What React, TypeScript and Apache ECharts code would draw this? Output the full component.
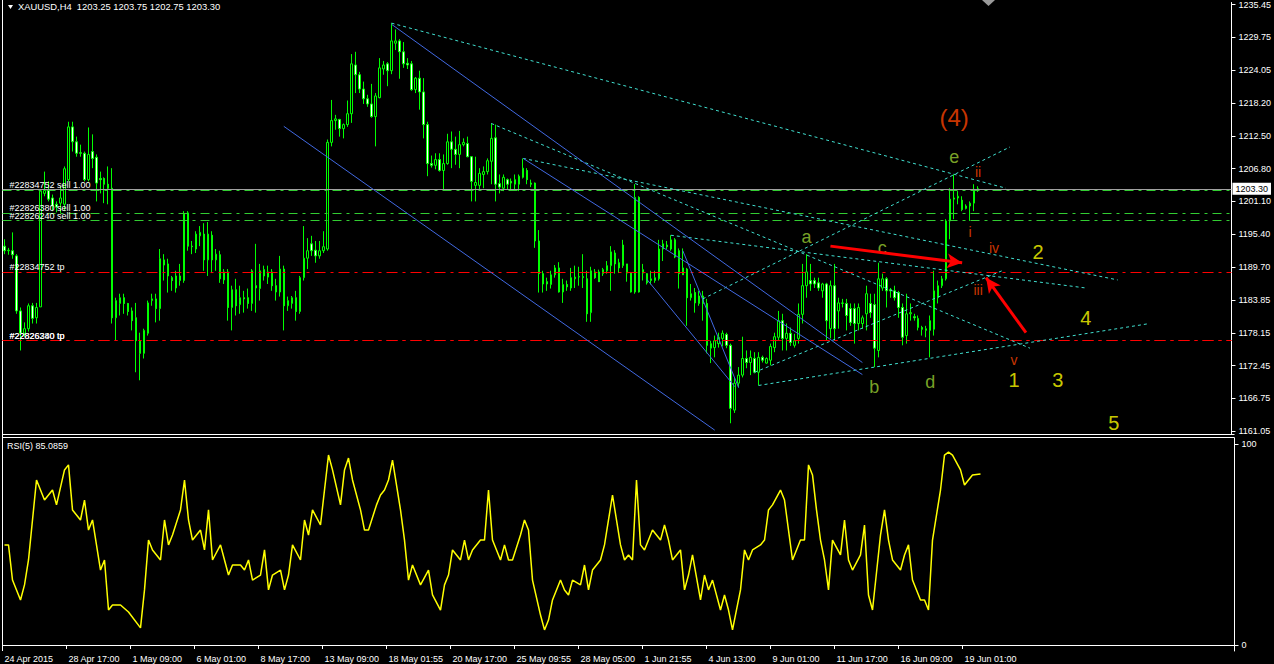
import React, { useEffect, useRef } from 'react';
import * as echarts from 'echarts';

// ---------------- data ----------------
const SLOTS = 308;
const dateLabels = ['24 Apr 2015','28 Apr 17:00','1 May 09:00','6 May 01:00','8 May 17:00','13 May 09:00','18 May 01:55','20 May 17:00','25 May 09:55','28 May 05:00','1 Jun 21:55','4 Jun 13:00','9 Jun 01:00','11 Jun 17:00','16 Jun 09:00','19 Jun 01:00'];
const priceTicks = [1161.05,1166.75,1172.45,1178.15,1183.85,1189.70,1195.40,1201.10,1206.80,1212.50,1218.20,1224.05,1229.75,1235.45];
const rsiTicks = [0, 100];

const open = [
1193.3,1192.5,1192.5,1191.6,1182.0,1178.1,1178.9,1182.9,1180.8,1182.7,
1202.5,1203.0,1201.7,1200.6,1200.8,1200.6,1204.9,1214.1,1211.5,1209.6,
1209.5,1204.9,1209.8,1208.8,1205.1,1205.1,1204.1,1203.4,1180.8,1183.3,
1184.3,1183.3,1182.0,1180.8,1176.8,1174.6,1178.1,1183.8,1184.1,1182.4,
1190.9,1190.2,1187.8,1186.0,1187.3,1187.3,1199.1,1193.3,1192.8,1195.1,
1195.4,1190.9,1195.2,1190.9,1191.8,1187.4,1188.8,1182.6,1185.7,1183.1,
1184.3,1184.3,1183.3,1186.4,1185.9,1189.2,1187.9,1188.8,1186.4,1185.3,
1189.3,1182.9,1183.3,1184.3,1181.9,1187.8,1191.2,1193.7,1192.6,1191.6,
1192.5,1192.8,1211.4,1215.2,1215.4,1213.8,1214.5,1216.4,1224.9,1223.2,
1220.7,1219.0,1218.1,1215.9,1219.2,1224.2,1225.1,1223.9,1228.7,1229.1,
1227.2,1225.2,1225.1,1220.6,1222.6,1220.2,1214.5,1207.7,1207.4,1208.4,
1206.5,1207.7,1211.5,1210.2,1209.3,1211.0,1211.2,1208.9,1203.9,1203.9,
1205.8,1206.3,1208.1,1212.2,1204.2,1203.4,1204.9,1204.6,1204.1,1204.1,
1205.3,1206.5,1204.3,1204.3,1194.2,1188.5,1187.1,1186.6,1188.3,1189.5,
1185.3,1186.6,1186.0,1187.6,1187.9,1187.8,1187.6,1181.7,1188.8,1188.8,
1188.5,1189.0,1189.9,1192.1,1190.4,1189.9,1190.2,1188.6,1185.3,1201.8,
1188.6,1188.5,1187.3,1187.3,1187.6,1192.8,1193.5,1192.8,1194.4,1192.5,
1189.5,1189.3,1184.3,1185.2,1183.3,1184.6,1183.3,1175.5,1175.6,1176.3,
1177.2,1177.9,1176.0,1164.7,1169.4,1170.8,1173.7,1173.0,1173.7,1171.3,
1173.9,1172.9,1173.4,1175.6,1177.4,1180.3,1177.2,1178.1,1176.0,1177.2,
1181.4,1186.4,1187.3,1187.3,1186.9,1185.5,1186.7,1178.9,1186.4,1182.0,
1183.3,1183.3,1182.4,1182.4,1179.8,1179.8,1181.5,1183.3,1183.1,1175.1,
1186.0,1187.6,1185.7,1185.5,1185.2,1182.6,1177.7,1181.5,1181.0,1179.1,
1179.1,1178.6,1178.6,1178.8,1184.3,1186.4,1187.6,1197.7,1201.5,1201.7,
1201.3,1200.3,1200.3,1200.8,1203.25];

const high = [
1194.5,1193.0,1195.7,1191.9,1182.6,1180.0,1183.3,1183.4,1183.4,1203.0,
1206.3,1204.6,1202.3,1201.1,1203.7,1207.2,1215.0,1215.0,1212.4,1211.0,
1209.8,1214.0,1212.8,1209.3,1206.3,1205.3,1207.2,1206.9,1184.3,1185.0,
1185.0,1183.4,1182.6,1183.4,1178.2,1178.9,1183.8,1185.0,1185.0,1192.8,
1191.9,1191.1,1188.1,1189.0,1190.2,1199.4,1199.4,1194.2,1195.9,1196.8,
1197.3,1197.5,1195.9,1192.8,1192.5,1189.3,1189.3,1186.4,1187.6,1186.4,
1185.5,1185.9,1189.3,1193.7,1190.2,1189.9,1189.9,1189.3,1187.6,1191.6,
1189.9,1184.5,1184.6,1185.5,1188.1,1196.8,1194.7,1195.1,1194.2,1194.2,
1195.9,1211.9,1218.8,1216.2,1215.5,1214.7,1218.7,1226.8,1227.2,1223.7,
1222.0,1219.7,1221.6,1220.0,1226.1,1225.6,1225.4,1232.2,1231.1,1229.4,
1228.9,1226.1,1225.6,1222.8,1223.9,1222.6,1215.0,1209.1,1209.5,1209.5,
1209.3,1212.9,1213.3,1212.4,1213.4,1212.1,1212.4,1209.0,1208.9,1206.9,
1207.2,1208.6,1214.7,1214.5,1205.8,1205.8,1205.1,1205.1,1205.8,1205.8,
1208.6,1206.9,1204.9,1204.4,1196.1,1189.0,1187.8,1189.0,1190.0,1190.5,
1187.6,1187.3,1189.5,1189.9,1189.7,1191.9,1189.0,1189.7,1189.3,1189.2,
1189.5,1190.7,1193.3,1192.6,1191.1,1194.4,1190.2,1188.8,1204.1,1202.0,
1190.2,1188.6,1189.0,1189.0,1194.4,1194.4,1194.2,1195.2,1194.7,1192.9,
1192.9,1189.5,1186.7,1186.0,1185.5,1185.5,1184.1,1176.8,1177.7,1178.2,
1178.6,1178.2,1176.3,1170.4,1172.2,1177.5,1175.1,1175.1,1174.8,1174.8,
1174.2,1173.9,1176.3,1178.2,1182.0,1181.5,1179.8,1179.1,1178.0,1183.3,
1190.2,1191.9,1190.2,1187.8,1187.8,1186.9,1186.9,1187.3,1190.2,1184.3,
1184.1,1184.1,1183.3,1183.3,1183.3,1181.2,1186.4,1185.0,1185.0,1190.4,
1188.5,1187.9,1186.0,1186.4,1185.5,1183.3,1185.0,1183.3,1181.5,1181.2,
1179.4,1179.4,1181.2,1189.0,1187.3,1188.1,1198.0,1203.4,1205.8,1202.9,
1202.0,1200.6,1201.1,1204.1,1203.75];

const low = [
1191.9,1191.8,1191.1,1181.5,1175.1,1177.5,1178.4,1179.8,1179.8,1182.7,
1202.0,1201.1,1199.4,1199.2,1199.1,1199.4,1204.6,1209.8,1208.9,1208.9,
1204.6,1204.6,1206.9,1201.1,1202.5,1200.8,1200.6,1179.8,1176.8,1181.2,
1181.5,1181.2,1178.6,1171.3,1169.9,1173.7,1177.7,1182.9,1180.0,1180.3,
1187.3,1185.2,1185.5,1185.2,1186.4,1186.9,1192.5,1191.9,1192.1,1193.3,
1189.0,1188.1,1188.6,1189.0,1186.9,1186.7,1180.3,1178.6,1181.2,1181.5,
1181.7,1182.4,1182.0,1181.7,1183.8,1187.3,1186.7,1185.5,1183.8,1184.5,
1178.6,1182.0,1182.4,1180.3,1181.5,1187.3,1189.3,1191.6,1190.4,1191.1,
1192.1,1192.5,1210.7,1213.6,1212.4,1212.1,1214.1,1214.8,1220.0,1220.0,
1218.1,1217.6,1215.7,1210.7,1219.1,1223.2,1221.2,1223.3,1227.5,1222.5,
1224.4,1224.2,1220.4,1220.0,1217.1,1212.1,1205.5,1207.0,1206.7,1206.3,
1203.2,1207.5,1206.9,1207.5,1206.9,1210.7,1208.8,1201.1,1201.1,1203.2,
1203.4,1205.8,1204.1,1201.1,1202.5,1202.9,1203.2,1203.2,1203.2,1202.9,
1205.1,1204.1,1203.6,1193.0,1185.2,1185.2,1185.5,1185.9,1187.8,1185.2,
1183.4,1185.5,1185.5,1186.0,1186.4,1186.0,1180.1,1180.1,1187.6,1187.1,
1188.1,1188.5,1185.5,1188.5,1188.6,1189.5,1187.1,1185.2,1185.0,1185.2,
1187.3,1186.6,1186.6,1186.9,1187.3,1190.7,1192.8,1192.5,1191.2,1185.9,
1188.3,1179.4,1183.8,1181.7,1182.9,1180.3,1174.6,1172.9,1173.9,1175.6,
1175.8,1175.5,1162.4,1164.2,1168.7,1170.4,1172.0,1170.8,1171.1,1169.0,
1173.0,1172.8,1172.5,1174.8,1176.8,1175.1,1175.1,1175.9,1175.6,1176.3,
1179.8,1184.3,1185.5,1186.0,1185.5,1184.3,1176.8,1177.2,1176.8,1178.9,
1182.6,1178.6,1179.4,1176.3,1178.6,1178.9,1178.6,1180.8,1172.2,1173.9,
1185.5,1182.6,1184.3,1183.8,1180.8,1176.0,1176.3,1180.3,1180.3,1178.6,
1177.7,1177.4,1173.9,1177.7,1183.3,1186.0,1187.3,1194.5,1198.0,1200.6,
1199.4,1199.7,1197.7,1199.4,1202.75];

const close = [
1192.5,1192.6,1191.8,1182.0,1178.1,1178.9,1182.9,1180.7,1182.6,1202.9,
1203.0,1201.5,1200.3,1200.1,1201.7,1206.8,1214.1,1211.5,1209.5,1209.5,
1204.9,1209.3,1208.6,1204.3,1204.9,1204.1,1203.4,1180.8,1183.8,1184.3,
1183.3,1181.9,1180.3,1176.8,1174.6,1178.6,1183.4,1184.1,1182.4,1191.1,
1190.0,1188.1,1187.3,1188.1,1188.1,1198.9,1193.3,1193.2,1195.4,1195.7,
1190.9,1195.4,1190.9,1191.9,1187.6,1188.8,1182.6,1185.7,1182.9,1184.3,
1184.1,1183.3,1189.0,1186.0,1189.0,1188.1,1188.8,1186.4,1185.3,1189.3,
1182.9,1183.8,1184.3,1181.9,1187.8,1191.2,1192.5,1192.5,1191.6,1192.5,
1193.2,1211.4,1215.2,1215.5,1213.8,1214.5,1216.4,1225.1,1223.2,1220.7,
1219.0,1218.1,1215.9,1219.5,1224.4,1224.9,1223.9,1229.1,1229.1,1227.2,
1225.1,1224.9,1220.6,1222.6,1220.2,1214.5,1207.7,1207.4,1208.4,1206.5,
1207.7,1211.5,1210.2,1209.3,1211.0,1211.4,1208.9,1204.6,1204.4,1206.0,
1206.3,1208.2,1212.1,1204.1,1203.6,1205.3,1204.1,1204.3,1204.9,1205.5,
1206.9,1204.9,1204.1,1194.2,1188.5,1186.7,1186.7,1188.3,1189.5,1185.3,
1186.6,1186.2,1187.8,1187.9,1188.0,1188.0,1181.5,1189.0,1187.8,1187.1,
1189.2,1189.9,1192.3,1190.2,1189.5,1193.5,1188.6,1185.3,1201.8,1185.3,
1189.2,1186.9,1187.6,1187.8,1192.8,1193.7,1193.2,1194.4,1191.4,1188.5,
1188.3,1184.3,1185.0,1183.4,1184.6,1183.3,1176.0,1176.3,1176.8,1177.4,
1178.1,1176.0,1165.0,1169.4,1170.8,1173.7,1173.0,1173.9,1171.3,1173.9,
1173.4,1173.7,1175.8,1177.5,1180.3,1177.2,1178.1,1176.5,1176.8,1181.4,
1186.4,1188.8,1186.7,1186.7,1186.0,1186.7,1180.3,1186.4,1178.9,1183.4,
1183.4,1181.2,1180.0,1179.8,1182.6,1180.8,1185.0,1181.7,1175.5,1187.6,
1187.6,1185.5,1185.5,1184.3,1182.6,1177.4,1181.5,1181.7,1180.8,1180.7,
1178.8,1178.9,1180.3,1185.5,1186.4,1187.6,1197.7,1201.5,1201.7,1202.0,
1199.7,1199.9,1200.8,1203.2,1203.30];

// RSI(5): [bar index, value]
const rsiPoints: [number, number][] = [
[0,49.8],[1,49.8],[2,32.3],[4,22.4],[5,29.9],[6,42.3],[8,82.1],[10,72.1],[12,77.1],[13,69.7],
[15,87.1],[16,89.6],[17,67.2],[19,62.2],[20,72.1],[21,57.2],[22,62.2],[24,37.3],[25,42.3],[26,17.4],
[27,19.9],[29,19.9],[31,16.4],[34,8.5],[35,27.4],[36,52.2],[37,47.3],[39,42.3],[40,62.2],[41,49.8],
[42,54.7],[44,67.2],[45,82.1],[46,62.2],[47,52.2],[49,57.2],[50,47.3],[51,67.2],[52,42.3],[54,49.8],
[55,42.3],[56,34.8],[57,39.8],[59,39.8],[60,37.3],[61,42.3],[62,32.3],[64,34.8],[65,47.3],[66,27.4],
[67,34.8],[69,37.3],[70,27.4],[71,34.8],[72,49.8],[74,42.3],[75,62.2],[76,54.7],[77,67.2],[79,59.7],
[81,94.5],[82,87.1],[84,69.7],[85,87.1],[86,93.0],[87,82.1],[89,67.2],[90,57.2],[91,57.2],[93,69.7],
[94,74.6],[95,77.1],[96,82.1],[97,92.0],[99,67.2],[100,52.2],[101,32.3],[102,39.8],[104,29.9],[106,37.3],
[107,24.9],[109,17.4],[110,29.9],[111,34.8],[112,47.3],[114,42.3],[115,52.2],[116,42.3],[117,47.3],[119,52.2],
[120,52.2],[121,77.1],[122,52.2],[124,42.3],[125,49.8],[126,42.3],[127,42.3],[129,54.7],[130,62.2],[131,57.2],
[132,32.3],[134,14.9],[135,7.5],[136,12.4],[137,22.4],[139,32.3],[140,27.4],[141,24.9],[142,32.3],[144,29.9],
[145,39.8],[146,27.4],[147,37.3],[149,42.3],[150,49.8],[151,62.2],[152,74.6],[154,49.8],[155,42.3],[156,44.8],
[157,42.3],[158,82.1],[159,49.8],[160,47.3],[162,57.2],[164,52.2],[165,59.7],[166,52.2],[167,42.3],[169,47.3],
[170,27.4],[171,34.8],[172,44.8],[174,22.4],[175,34.8],[176,27.4],[177,32.3],[179,17.4],[180,24.9],[181,17.4],
[182,7.5],[184,27.4],[185,47.3],[186,42.3],[187,47.3],[189,49.8],[190,52.2],[191,67.2],[192,69.7],[194,77.1],
[195,72.1],[196,57.2],[197,42.3],[199,52.2],[200,52.2],[201,89.6],[202,84.6],[203,67.2],[204,52.2],[205,42.3],
[206,27.4],[207,52.2],[209,44.8],[210,62.2],[211,42.3],[212,37.3],[214,44.8],[215,59.7],[216,24.9],[217,17.4],
[219,54.7],[220,67.2],[221,52.2],[222,42.3],[224,37.3],[225,44.8],[226,49.8],[227,32.3],[229,22.4],[230,22.4],
[231,17.4],[232,52.2],[234,77.1],[235,94.5],[236,96.0],[237,94.5],[239,87.1],[240,79.6],[241,82.1],[242,84.6],
[244,85.09]];

// horizontal order lines
const bidPrice = 1203.30;
const orderPrices = [1203.11, 1199.12, 1197.73, 1188.80, 1176.83, 1176.83];
const orderTexts = ['#22834752 sell 1.00', '#22826380 sell 1.00', '#22826240 sell 1.00', '#22834752 tp', '#22826380 tp', '#22826240 tp'];
const orderKinds = ['sell', 'sell', 'sell', 'tp', 'tp', 'tp'];

// trend lines: [startBar, startPrice, endBar, endPrice]
const cyanLines: [number, number, number, number][] = [
  [97, 1232.2, 251, 1203.4],
  [122, 1214.7, 257, 1175.5],
  [130, 1208.6, 279, 1187.4],
  [167, 1195.2, 271, 1186.0],
  [189, 1169.0, 287, 1179.8],
  [175, 1184.1, 252, 1210.6],
  [188, 1171.3, 250, 1189.0],
];
const blueLines: [number, number, number, number][] = [
  [70, 1214.2, 178, 1161.2],
  [97, 1232.0, 215, 1173.0],
  [130, 1208.6, 215, 1170.9],
  [170, 1192.5, 184, 1168.6],
  [161, 1187.5, 183, 1168.8],
];
const arrowLines: [number, number, number, number][] = [
  [207, 1193.3, 240, 1190.4],
  [256, 1178.2, 246, 1187.8],
];

// wave annotations
const waveTexts = ['(4)', 'e', 'a', 'c', 'b', 'd', 'ii', 'i', 'iv', 'iii', 'v', '1', '2', '3', '4', '5'];
const waveBars = [238, 238, 201, 220, 218, 232, 244, 242, 248, 244, 253, 253, 259, 264, 271, 278];
const wavePrices = [1215.7, 1208.9, 1194.9, 1192.9, 1168.7, 1169.6, 1206.2, 1195.8, 1193.0, 1185.7, 1173.4, 1169.9, 1192.3, 1169.9, 1180.7, 1162.4];
const waveDegree = ['major', 'abc', 'abc', 'abc', 'abc', 'abc', 'minor', 'minor', 'minor', 'minor', 'minor', 'num', 'num', 'num', 'num', 'num'];

// ---------------- styles ----------------
const FONT = 'Liberation Sans, Arial, sans-serif';
const degreeStyle: Record<string, { color: string; fontSize: number }> = {
  major: { color: '#ff4500', fontSize: 24 },
  abc: { color: '#9acd32', fontSize: 18 },
  minor: { color: '#ff4500', fontSize: 14 },
  num: { color: '#ffff00', fontSize: 20 },
};

export default function App() {
  const ref = useRef<HTMLDivElement>(null);
  useEffect(() => {
    const chart = echarts.init(ref.current as HTMLDivElement, null, { renderer: 'svg' });
    const cats = Array.from({ length: SLOTS }, (_, i) => String(i));
    const candles = open.map((o, i) => [o, close[i], low[i], high[i]]);

    const markData: any[] = [];
    markData.push({
      yAxis: bidPrice,
      lineStyle: { color: '#a0a0a0', type: 'solid', width: 1 },
      label: {
        show: true, position: 'end', formatter: bidPrice.toFixed(2), color: '#000', backgroundColor: '#fff',
        padding: [2, 3, 1, 3], fontSize: 9, fontFamily: FONT, distance: 1,
      },
    });
    orderPrices.forEach((p, k) => {
      const sell = orderKinds[k] === 'sell';
      markData.push({
        yAxis: p,
        lineStyle: { color: sell ? '#32cd32' : '#ff0000', type: sell ? [9, 5, 3, 5] : [11, 5, 3, 5], width: 1 },
        label: {
          show: true, position: 'insideStartTop', formatter: orderTexts[k], color: '#fff', fontSize: 9,
          lineHeight: 8, fontFamily: FONT, distance: [7, 1],
        },
      });
    });
    cyanLines.forEach(([a, pa, b, pb]) => {
      markData.push([
        { coord: [a, pa], lineStyle: { color: '#40e0d0', type: [3, 3], width: 1 }, label: { show: false } },
        { coord: [b, pb] },
      ]);
    });
    blueLines.forEach(([a, pa, b, pb]) => {
      markData.push([
        { coord: [a, pa], lineStyle: { color: '#4169e1', type: 'solid', width: 1 }, label: { show: false } },
        { coord: [b, pb] },
      ]);
    });
    arrowLines.forEach(([a, pa, b, pb]) => {
      markData.push([
        { coord: [a, pa], lineStyle: { color: '#ff0000', type: 'solid', width: 3 }, label: { show: false } },
        { coord: [b, pb], symbol: 'arrow', symbolSize: [11, 15], itemStyle: { color: '#ff0000' } },
      ]);
    });

    const textData = waveTexts.map((t, k) => ({
      name: t,
      value: [waveBars[k], wavePrices[k]],
      label: { color: degreeStyle[waveDegree[k]].color, fontSize: degreeStyle[waveDegree[k]].fontSize },
    }));

    const labelInterval = (i: number) => i % 16 === 0 && i / 16 < dateLabels.length;

    const option: any = {
      animation: false,
      backgroundColor: '#000000',
      textStyle: { fontFamily: FONT },
      title: [
        {
          text: 'XAUUSD,H4  1203.25 1203.75 1202.75 1203.30', left: 18, top: 2, padding: 0,
          textStyle: { color: '#fff', fontSize: 9.4, fontWeight: 'normal', fontFamily: FONT },
        },
        {
          text: 'RSI(5) 85.0859', left: 7, top: 441, padding: 0,
          textStyle: { color: '#fff', fontSize: 9, fontWeight: 'normal', fontFamily: FONT },
        },
      ],
      grid: [
        { left: 2.5, top: 0, width: 1232, height: 434 },
        { left: 2.5, top: 438, width: 1232, height: 213 },
      ],
      xAxis: [
        {
          type: 'category', gridIndex: 0, data: cats, boundaryGap: true,
          axisLine: { show: false }, axisTick: { show: false }, axisLabel: { show: false }, splitLine: { show: false },
        },
        {
          type: 'category', gridIndex: 1, data: cats, boundaryGap: true,
          axisLine: { show: true, lineStyle: { color: '#fff', width: 1 } },
          axisTick: { show: true, interval: labelInterval, length: 4, lineStyle: { color: '#fff' } },
          axisLabel: {
            show: true, interval: labelInterval, color: '#fff', fontSize: 9, fontFamily: FONT, align: 'left', margin: 3,
            formatter: (_v: string, i: number) => (i % 16 === 0 ? dateLabels[i / 16] || '' : ''),
          },
          splitLine: { show: false },
        },
      ],
      yAxis: [
        {
          type: 'value', gridIndex: 0, position: 'right', min: 1160.53, max: 1235.80,
          axisLine: { show: true, lineStyle: { color: '#fff' } },
          axisTick: { show: true, customValues: priceTicks, length: 4, lineStyle: { color: '#fff' } },
          axisLabel: {
            show: true, customValues: priceTicks, color: '#fff', fontSize: 9, fontFamily: FONT, margin: 7,
            formatter: (v: number) => v.toFixed(2),
          },
          splitLine: { show: false },
        },
        {
          type: 'value', gridIndex: 1, position: 'right', min: -2.985, max: 102.985,
          axisLine: { show: true, lineStyle: { color: '#fff' } },
          axisTick: { show: true, customValues: rsiTicks, length: 4, lineStyle: { color: '#fff' } },
          axisLabel: {
            show: true, customValues: rsiTicks, color: '#fff', fontSize: 9, fontFamily: FONT, margin: 7,
            formatter: (v: number) => String(Math.round(v)),
          },
          splitLine: { show: false },
        },
      ],
      series: [
        {
          type: 'candlestick', xAxisIndex: 0, yAxisIndex: 0, data: candles, barWidth: 2,
          itemStyle: { color: '#000000', color0: '#ffffff', borderColor: '#00ff00', borderColor0: '#00ff00', borderWidth: 1 },
          markLine: {
            silent: true, animation: false, symbol: ['none', 'none'], precision: 2,
            label: { show: false }, data: markData,
          },
        },
        {
          type: 'scatter', xAxisIndex: 0, yAxisIndex: 0, data: textData, symbolSize: 1,
          itemStyle: { color: 'rgba(0,0,0,0)' }, silent: true,
          label: { show: true, position: 'inside', formatter: '{b}', fontFamily: FONT },
        },
        {
          type: 'line', xAxisIndex: 1, yAxisIndex: 1, data: rsiPoints, showSymbol: false,
          lineStyle: { color: '#ffff00', width: 1.5 }, silent: true,
        },
      ],
      graphic: [
        { type: 'line', shape: { x1: 2.5, y1: 0, x2: 2.5, y2: 651 }, style: { stroke: '#fff', lineWidth: 1 } },
        { type: 'line', shape: { x1: 2, y1: 434.5, x2: 1234.5, y2: 434.5 }, style: { stroke: '#fff', lineWidth: 1 } },
        { type: 'line', shape: { x1: 2, y1: 437.5, x2: 1234.5, y2: 437.5 }, style: { stroke: '#fff', lineWidth: 1 } },
        { type: 'polygon', shape: { points: [[8, 5], [13, 5], [10.5, 9]] }, style: { fill: '#fff' } },
        { type: 'polygon', shape: { points: [[982, 0], [995, 0], [988.5, 6]] }, style: { fill: '#9a9a9a' } },
      ],
    };
    chart.setOption(option);
    return () => chart.dispose();
  }, []);
  return (
    <div
      ref={ref}
      style={{ position: 'fixed', left: 0, top: 0, width: 1274, height: 664, background: '#000' }}
    />
  );
}
